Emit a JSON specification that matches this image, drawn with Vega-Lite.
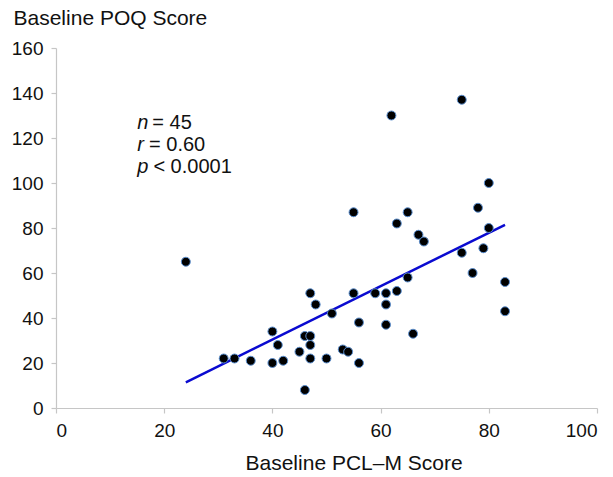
{
  "$schema": "https://vega.github.io/schema/vega-lite/v6.json",
  "width": 541,
  "height": 360,
  "autosize": {"type": "none"},
  "padding": {"left": 56, "top": 48, "right": 16, "bottom": 69},
  "background": "white",
  "config": {
    "view": {"stroke": null},
    "font": "Liberation Sans",
    "axis": {
      "grid": false,
      "domainColor": "#c6c6c6",
      "tickColor": "#c6c6c6",
      "domainWidth": 1.2,
      "tickWidth": 1.2,
      "tickSize": 5,
      "labelFont": "Liberation Sans",
      "labelFontSize": 19,
      "labelColor": "#111",
      "titleFont": "Liberation Sans",
      "titleFontSize": 21,
      "titleFontWeight": "normal",
      "titleColor": "#111"
    }
  },
  "datasets": {
    "pts": [
      {"pcl": 24, "poq": 65}, {"pcl": 31, "poq": 22}, {"pcl": 33, "poq": 22}, {"pcl": 36, "poq": 21},
      {"pcl": 40, "poq": 34}, {"pcl": 41, "poq": 28}, {"pcl": 40, "poq": 20}, {"pcl": 42, "poq": 21},
      {"pcl": 45, "poq": 25}, {"pcl": 46, "poq": 32}, {"pcl": 47, "poq": 32}, {"pcl": 47, "poq": 28},
      {"pcl": 47, "poq": 22}, {"pcl": 46, "poq": 8}, {"pcl": 47, "poq": 51}, {"pcl": 48, "poq": 46},
      {"pcl": 50, "poq": 22}, {"pcl": 51, "poq": 42}, {"pcl": 53, "poq": 26}, {"pcl": 54, "poq": 25},
      {"pcl": 55, "poq": 51}, {"pcl": 56, "poq": 38}, {"pcl": 56, "poq": 20},
      {"pcl": 62, "poq": 130}, {"pcl": 75, "poq": 137}, {"pcl": 80, "poq": 100}, {"pcl": 55, "poq": 87},
      {"pcl": 65, "poq": 87}, {"pcl": 63, "poq": 82}, {"pcl": 78, "poq": 89}, {"pcl": 67, "poq": 77},
      {"pcl": 68, "poq": 74}, {"pcl": 80, "poq": 80}, {"pcl": 75, "poq": 69}, {"pcl": 79, "poq": 71},
      {"pcl": 77, "poq": 60}, {"pcl": 65, "poq": 58}, {"pcl": 83, "poq": 56}, {"pcl": 83, "poq": 43},
      {"pcl": 59, "poq": 51}, {"pcl": 61, "poq": 51}, {"pcl": 63, "poq": 52}, {"pcl": 61, "poq": 46},
      {"pcl": 61, "poq": 37}, {"pcl": 66, "poq": 33}
    ],
    "notes": [
      {"sym": "n", "rest": "= 45", "xs": 15.0, "xr": 17.8, "y": 126.5},
      {"sym": "r", "rest": "= 0.60", "xs": 15.0, "xr": 17.2, "y": 116.8},
      {"sym": "p", "rest": "< 0.0001", "xs": 15.0, "xr": 18.0, "y": 107.2}
    ]
  },
  "layer": [
    {
      "data": {"name": "pts"},
      "transform": [{"regression": "poq", "on": "pcl", "extent": [24, 83]}],
      "mark": {"type": "line", "color": "#0a0ad0", "strokeWidth": 2.5},
      "encoding": {
        "x": {"field": "pcl", "type": "quantitative", "scale": {"domain": [0, 100]},
              "axis": {"values": [0, 20, 40, 60, 80, 100], "title": "Baseline PCL\u2013M Score", "labelPadding": 8,
                       "titleAlign": "left", "titleBaseline": "middle", "titleX": 189, "titleY": 55}},
        "y": {"field": "poq", "type": "quantitative", "scale": {"domain": [0, 160]},
              "axis": {"values": [0, 20, 40, 60, 80, 100, 120, 140, 160], "title": "Baseline POQ Score",
                       "titleAngle": 0, "titleAlign": "left", "titleBaseline": "middle", "titleX": -43, "titleY": -30, "labelPadding": 8}}
      }
    },
    {
      "data": {"name": "pts"},
      "mark": {"type": "point", "filled": true, "fill": "black", "stroke": "#5b8fd0", "strokeWidth": 1, "size": 80, "opacity": 1},
      "encoding": {
        "x": {"field": "pcl", "type": "quantitative"},
        "y": {"field": "poq", "type": "quantitative"}
      }
    },
    {
      "data": {"name": "notes"},
      "mark": {"type": "text", "align": "left", "baseline": "middle", "fontSize": 20, "fontStyle": "italic", "font": "Liberation Sans", "color": "#111"},
      "encoding": {
        "x": {"field": "xs", "type": "quantitative"},
        "y": {"field": "y", "type": "quantitative"},
        "text": {"field": "sym"}
      }
    },
    {
      "data": {"name": "notes"},
      "mark": {"type": "text", "align": "left", "baseline": "middle", "fontSize": 20, "font": "Liberation Sans", "color": "#111"},
      "encoding": {
        "x": {"field": "xr", "type": "quantitative"},
        "y": {"field": "y", "type": "quantitative"},
        "text": {"field": "rest"}
      }
    }
  ]
}
